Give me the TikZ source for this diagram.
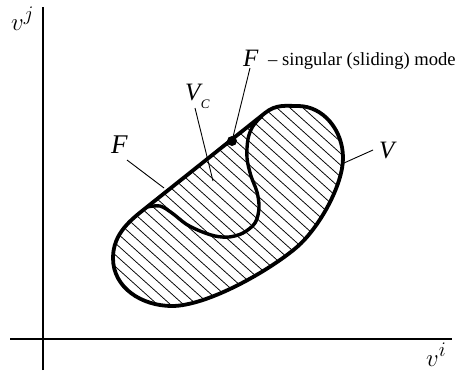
\documentclass[tikz,border=0pt]{standalone}
\usepackage{fontspec}
\setmainfont{Liberation Serif}
\usetikzlibrary{calc}
\begin{document}
\begin{tikzpicture}[x=1pt,y=-1pt,
  lbl/.style={inner sep=0pt, anchor=base west},
  leader/.style={line width=0.9pt},
  axis/.style={line width=1.6pt},
  hatch/.style={line width=0.75pt},
  bound/.style={line width=3.8pt, line join=round, line cap=round},
  big/.style={font=\fontsize{25}{27}\selectfont},
]
\useasboundingbox (0,0) rectangle (457,370);
\def\vpath{(147,207) -- (265,113) .. controls (276,104) and (286,106) .. (298,106) .. controls (323,106) and (343,130) .. (343,158) .. controls (343,185) and (319,228) .. (297,247) .. controls (269,271) and (207,306) .. (172,306) .. controls (142,306) and (113,288) .. (113,258) .. controls (113,233) and (131.4,219.4) .. (147,207) -- cycle}
% axes
\coordinate (yb) at (43,370);
\coordinate (yt) at (43,7);
\coordinate (xl) at (10,339);
\coordinate (xr) at (452,339);
\draw[axis] (yb) -- (yt);
\draw[axis] (xl) -- (xr);
% hatching
\begin{scope}
\clip \vpath;
\foreach \s in {-170,-157,...,330} \draw[hatch] (\s,80) -- ++(300,270);
\end{scope}
% boundaries
\draw[bound] \vpath;
\draw[bound, line width=3.4pt] plot[smooth, tension=0.55] coordinates {(147,207) (160,206) (172,213) (186,224) (200,231) (215,236) (229,237) (243,233) (255,223) (259,208) (257,192) (251,176) (247,158) (248,139) (253,126) (262,116)};
% dot
\node[circle, fill, inner sep=0pt, minimum size=10pt] (dot) at (232,141) {};
% labels
\node[lbl, font=\fontsize{28}{30}\selectfont] (vj) at (11,30) {$v^j$};
\node[lbl, font=\fontsize{28}{30}\selectfont] (vi) at (426,366) {$v^i$};
\node[lbl, big] (Ftop) at (243,66) {\textit{F}};
\node[lbl, font=\fontsize{18.6}{20}\selectfont] (desc) at (268,65) {– singular (sliding) mode};
\node[lbl, font=\fontsize{27}{29}\selectfont] (Fl) at (111,153) {\textit{F}};
\node[lbl, big] (VC) at (185,100) {\textit{V}\kern-2pt\raisebox{-8pt}{\fontsize{13}{14}\selectfont\textit{C}}};
\node[lbl, big] (Vr) at (379,158) {\textit{V}};
% leaders
\coordinate (fa) at (250,68);
\coordinate (vca) at (195,108);
\coordinate (vcb) at (213,181);
\coordinate (fla) at (127,160);
\coordinate (flb) at (164,188);
\coordinate (vra) at (373,150);
\coordinate (vrb) at (344,163);
\draw[leader] (fa) -- (dot.center);
\draw[leader] (vca) -- (vcb);
\draw[leader] (fla) -- (flb);
\draw[leader] (vra) -- (vrb);
\end{tikzpicture}
\end{document}
